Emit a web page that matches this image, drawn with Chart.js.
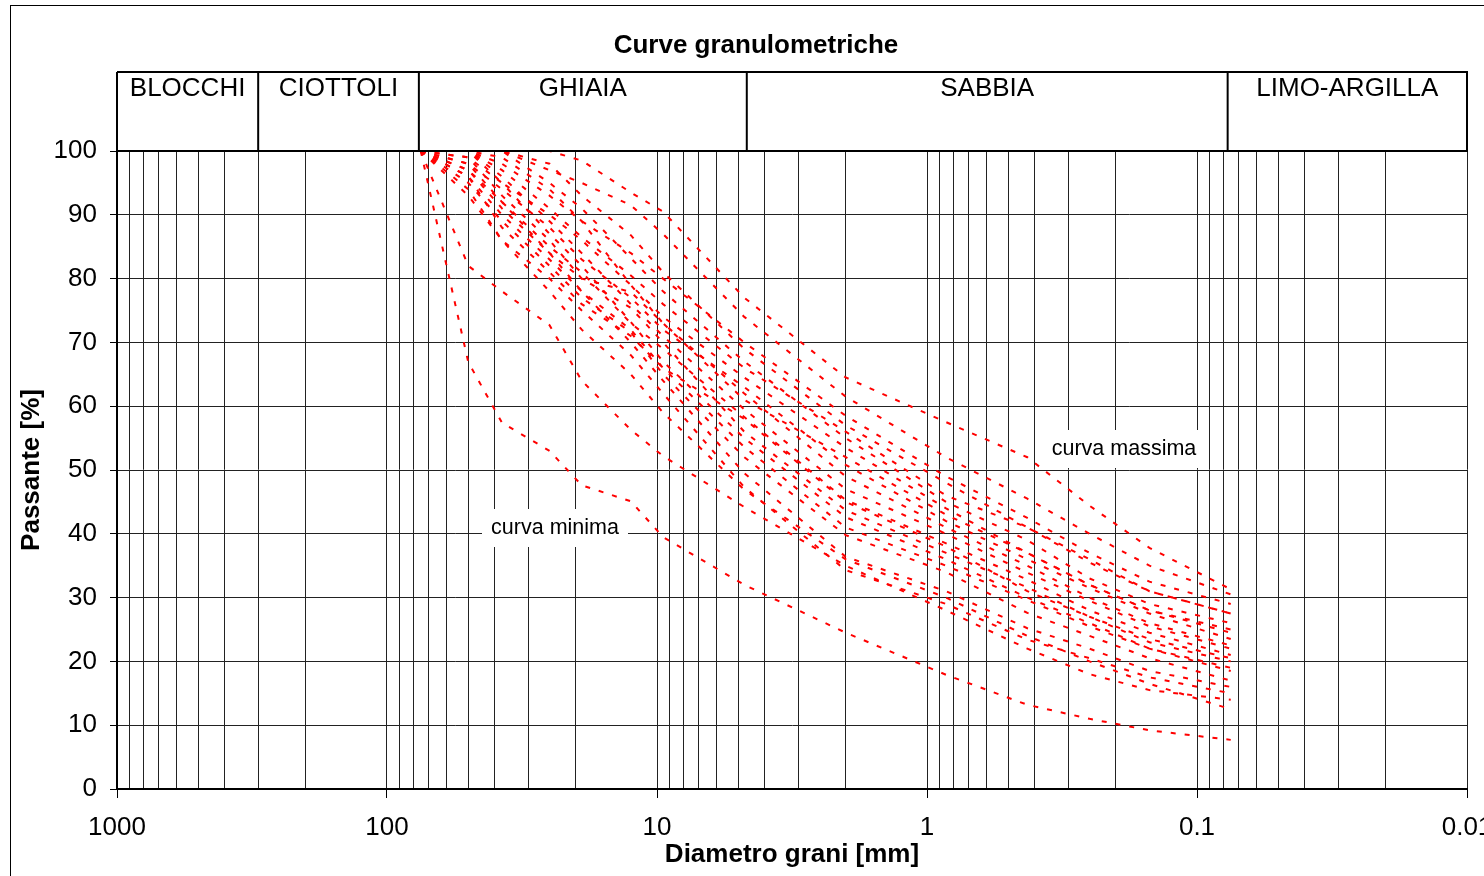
<!DOCTYPE html>
<html>
<head>
<meta charset="utf-8">
<script src="https://cdn.jsdelivr.net/npm/chart.js@4.4.1/dist/chart.umd.min.js"></script>
<style>
  body { margin: 0; background: #fff; }
  canvas { display: block; }
</style>
</head>
<body>
<canvas id="granChart" width="1484" height="876"></canvas>
<script>
// setacci (mm)
const diametri = [75, 50, 37.5, 25, 19, 12.5, 9.5, 4.75, 2, 0.85, 0.425, 0.25, 0.15, 0.075]

// passante [%] per ogni setaccio
const curvaMassima = [100, 100, 100, 100, 98.5, 93.5, 90.5, 77, 64.5, 57.5, 52, 44.4, 37.8, 31.3]
const camp01 = [100, 100, 100, 97, 95, 91.5, 87, 74, 61.5, 52, 45.5, 40, 35, 30.5]
const camp02 = [100, 100, 98, 93, 89, 84, 80, 70, 58.5, 49, 42.5, 37, 32.5, 29]
const camp03 = [100, 100, 97, 91, 86.5, 80.5, 76, 66, 56, 46, 41, 35.5, 31, 27.5]
const camp04 = [100, 100, 95, 90, 86, 79, 74, 64.5, 53.5, 44, 37, 32, 28, 25]
const camp05 = [100, 98, 94, 88, 83, 77, 72, 63, 50.8, 42, 36, 31.5, 27.5, 23.5]
const camp06 = [100, 100, 96, 89, 84, 76, 71, 59.5, 47, 40, 33.9, 29.5, 25.5, 22]
const camp07 = [100, 97, 92, 85, 81, 73, 69, 58.3, 45.3, 38.5, 32.8, 28, 24.5, 21]
const camp08 = [100, 99, 93, 86, 80, 75.4, 70, 56, 43.7, 37, 31.6, 27, 23, 20]
const camp09 = [100, 96, 90, 83, 78, 72, 66, 53.6, 41, 35, 29.6, 25.5, 22, 18.5]
const camp10 = [100, 95, 89, 82, 77, 71.6, 65, 52, 39.8, 34, 27.6, 24, 20.5, 17]
const camp11 = [100, 97, 91, 84, 78, 70, 64, 49.5, 36.4, 31, 25.2, 22, 18.5, 16]
const camp12 = [100, 94, 86, 80, 75, 68, 62, 47.3, 34.3, 29, 23.4, 20.5, 17.5, 15]
const camp13 = [100, 82, 78, 72.7, 64, 56.3, 52.2, 44.2, 35, 28, 22, 18, 15.5, 14]
const camp14 = [100, 93, 86, 78, 72, 65, 59, 46.9, 36, 30, 24, 20, 16.5, 12.5]
const camp15 = [100, 100, 100, 95, 91, 83.2, 78, 67, 55, 45, 39, 33, 29, 26]
const camp16 = [100, 100, 100, 98, 93, 86.8, 81, 69, 57, 48, 41, 36, 31, 27.5]
const camp17 = [100, 100, 99, 94, 89, 79, 73, 62, 49, 41, 35, 30, 26, 22.5]
const camp18 = [100, 99, 95, 87, 82, 73.2, 67, 55, 42.6, 36, 30, 26, 22, 19]
const camp19 = [100, 98, 92, 84, 80, 77.9, 73, 61, 52, 43, 37, 32, 28, 24.5]
const camp20 = [100, 96, 88, 81, 76, 71, 66, 58, 45, 38, 31, 27, 23.5, 20.5]
const curvaMinima = [100, 66.9, 57.4, 53, 47.6, 45.1, 39.5, 32, 24.5, 17.9, 13.2, 11, 9.2, 7.7]

const campioni = [curvaMassima, camp01, camp02, camp03, camp04, camp05, camp06, camp07, camp08, camp09,
  camp10, camp11, camp12, camp13, camp14, camp15, camp16, camp17, camp18, camp19, camp20, curvaMinima]

// classi granulometriche
const classi = ['BLOCCHI', 'CIOTTOLI', 'GHIAIA', 'SABBIA', 'LIMO-ARGILLA']
const limitiClassi = [1000, 300, 76.2, 4.65, 0.077, 0.01]

const xTicks = []
for (let e = 3; e >= -2; e--) {
  for (let m = 9; m >= 1; m--) {
    const v = Number((m * Math.pow(10, e)).toPrecision(6))
    if (v <= 1000) xTicks.push(v)
  }
}
const isDecade = v => Math.abs(Math.log10(v) - Math.round(Math.log10(v))) < 1e-9

const FONT = "'Liberation Sans', Arial, sans-serif"

const datasets = campioni.map(vals => ({
  data: diametri.map((d, i) => ({ x: d, y: vals[i] })),
  showLine: true,
  borderColor: 'rgb(255, 0, 0)',
  borderWidth: 2,
  borderDash: [5, 9],
  pointRadius: 0,
  tension: 0
}))

const decorPlugin = {
  id: 'decor',
  beforeDraw(chart) {
    const ctx = chart.ctx
    ctx.save()
    ctx.fillStyle = '#fff'
    ctx.fillRect(0, 0, chart.width, chart.height)
    ctx.strokeStyle = '#000'
    ctx.lineWidth = 1
    ctx.strokeRect(10.5, 5.5, 1600, 1000)
    ctx.restore()
  },
  afterDraw(chart) {
    const ctx = chart.ctx
    const xs = chart.scales.x
    const area = chart.chartArea
    const top = 72
    ctx.save()
    ctx.fillStyle = '#000'
    ctx.font = 'bold 26px ' + FONT
    ctx.textAlign = 'center'
    ctx.textBaseline = 'middle'
    ctx.fillText('Curve granulometriche', 756, 46)

    ctx.strokeStyle = '#000'
    ctx.lineWidth = 2
    ctx.beginPath()
    ctx.moveTo(area.left, top)
    ctx.lineTo(area.right + 1, top)
    ctx.moveTo(area.left, area.top)
    ctx.lineTo(area.right + 1, area.top)
    ctx.stroke()
    ctx.font = '26px ' + FONT
    for (let i = 0; i < limitiClassi.length; i++) {
      const px = xs.getPixelForValue(limitiClassi[i])
      ctx.beginPath()
      ctx.moveTo(px, top)
      ctx.lineTo(px, area.top)
      ctx.stroke()
      if (i < classi.length) {
        const nx = xs.getPixelForValue(limitiClassi[i + 1])
        ctx.fillText(classi[i], (px + nx) / 2, 89)
      }
    }
    ctx.restore()
  },
  afterDatasetsDraw(chart) {
    const ctx = chart.ctx
    ctx.save()
    ctx.font = '21.5px ' + FONT
    ctx.textAlign = 'center'
    ctx.textBaseline = 'middle'
    const labels = [['curva minima', 555, 528, 146], ['curva massima', 1124, 449, 162]]
    labels.forEach(([t, x, y, w]) => {
      ctx.fillStyle = '#fff'
      ctx.fillRect(x - w / 2, y - 19, w, 38)
      ctx.fillStyle = '#000'
      ctx.fillText(t, x, y)
    })
    ctx.restore()
  }
}

new Chart(document.getElementById('granChart'), {
  type: 'scatter',
  data: { datasets: datasets },
  options: {
    responsive: false,
    animation: false,
    layout: { padding: { left: 0, top: 151, right: 17, bottom: 0 } },
    plugins: { legend: { display: false }, tooltip: { enabled: false } },
    scales: {
      x: {
        type: 'logarithmic',
        reverse: true,
        min: 0.01,
        max: 1000,
        afterBuildTicks: scale => { scale.ticks = xTicks.map(v => ({ value: v })) },
        afterFit: scale => { scale.height = 87; scale.paddingLeft = 0; scale.paddingRight = 0 },
        ticks: {
          autoSkip: false,
          maxRotation: 0,
          minRotation: 0,
          padding: 14,
          color: '#000',
          font: { family: FONT, size: 26 },
          callback: v => isDecade(v) ? String(v) : ''
        },
        grid: {
          color: '#222',
          lineWidth: 1,
          tickLength: 9,
          tickColor: c => (c.tick && isDecade(c.tick.value)) ? '#000' : 'rgba(0,0,0,0)'
        },
        border: { color: '#000', width: 2 },
        title: {
          display: true,
          text: 'Diametro grani [mm]',
          color: '#000',
          font: { family: FONT, size: 26, weight: 'bold' },
          padding: { top: 0, bottom: 6 }
        }
      },
      y: {
        min: 0,
        max: 100,
        afterFit: scale => { scale.width = 117; scale.paddingTop = 0; scale.paddingBottom = 0 },
        ticks: {
          stepSize: 5,
          padding: 13,
          color: '#000',
          font: { family: FONT, size: 26 },
          callback: v => v % 10 === 0 ? v : ''
        },
        grid: {
          color: '#222',
          lineWidth: 1,
          tickLength: 7,
          tickColor: c => (c.tick && c.tick.value % 10 === 0) ? '#000' : 'rgba(0,0,0,0)'
        },
        border: { color: '#000', width: 2 },
        title: {
          display: true,
          text: 'Passante [%]',
          color: '#000',
          font: { family: FONT, size: 26, weight: 'bold' },
          padding: { top: 16, bottom: 0 }
        }
      }
    }
  },
  plugins: [decorPlugin]
})
</script>
</body>
</html>
